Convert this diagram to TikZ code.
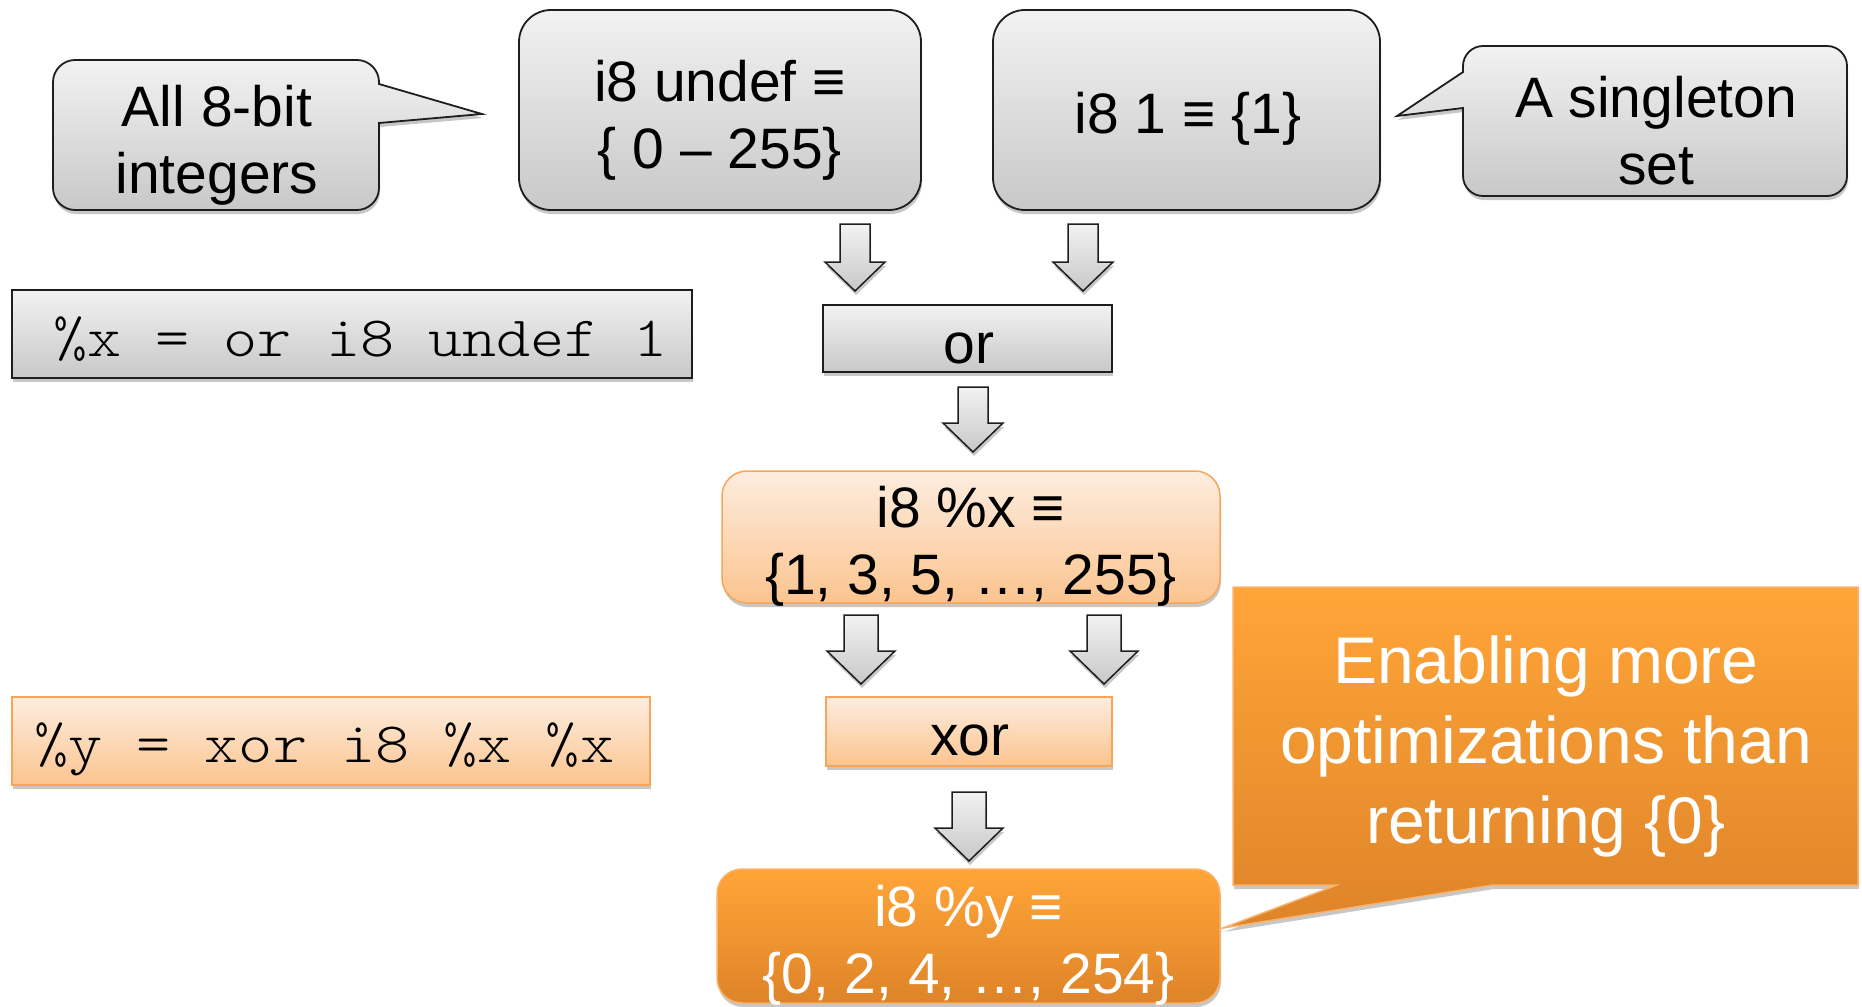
\documentclass[tikz,border=0pt]{standalone}
\usepackage{fontspec}
\setmainfont{Liberation Sans}
\newfontfamily\codefont{lmmonolt10-regular.otf}[FakeStretch=1.14]
\usetikzlibrary{shadows}

\definecolor{grayTop}{HTML}{F2F2F2}
\definecolor{grayBot}{HTML}{C8C8C8}
\definecolor{edgeDark}{HTML}{1E1E1E}
\definecolor{peachTop}{HTML}{FDEDDF}
\definecolor{peachBot}{HTML}{FBC48F}
\definecolor{peachEdge}{HTML}{F8A55A}
\definecolor{amberTop}{HTML}{FFA538}
\definecolor{amberBot}{HTML}{DE8429}
\definecolor{amberEdge}{HTML}{F9B26B}

\tikzset{
  softshadow/.style={drop shadow={shadow xshift=1pt, shadow yshift=-4pt, opacity=0.22, fill=black}},
  graybox/.style={draw=edgeDark, line width=1.8pt, top color=grayTop, bottom color=grayBot, softshadow},
  peachbox/.style={draw=peachEdge, line width=1.5pt, top color=peachTop, bottom color=peachBot, softshadow},
  amberbox/.style={draw=amberEdge, line width=1.5pt, top color=amberTop, bottom color=amberBot, softshadow},
  plate/.style={rectangle, inner sep=0pt},
  label57/.style={font=\fontsize{57}{67}\selectfont, align=center, inner sep=0pt},
  label66/.style={font=\fontsize{66}{80}\selectfont, align=center, inner sep=0pt},
  code57/.style={font=\codefont\fontsize{57}{67}\selectfont, inner sep=0pt},
  blockarrow/.style={draw=edgeDark, line width=1.5pt, line join=miter, top color=grayTop, bottom color=grayBot, softshadow},
}

% hollow block arrow pointing down: x, top, bottom, half head width, half shaft width, head length
\newcommand\downblock[6]{%
  \path[blockarrow] (#1-#5,#2) -- (#1+#5,#2) -- (#1+#5,#3-#6) -- (#1+#4,#3-#6)
    -- (#1,#3) -- (#1-#4,#3-#6) -- (#1-#5,#3-#6) -- cycle;}

\begin{document}
\begin{tikzpicture}[x=1pt,y=-1pt]
\useasboundingbox (0,0) rectangle (1862,1006);

% speech bubble on the left, pointing right
\path[graybox] (75,60) -- (357,60) .. controls (369,60) and (379,70) .. (379,82)
  -- (379,84) -- (482,114) -- (379,123)
  -- (379,188) .. controls (379,200) and (369,210) .. (357,210)
  -- (75,210) .. controls (63,210) and (53,200) .. (53,188)
  -- (53,82) .. controls (53,70) and (63,60) .. (75,60) -- cycle;
\node[label57] (allT) at (217,145) {All 8-bit\\integers};

% speech bubble on the right, pointing left
\path[graybox] (1483,46) -- (1827,46) .. controls (1838,46) and (1847,55) .. (1847,66)
  -- (1847,176) .. controls (1847,187) and (1838,196) .. (1827,196)
  -- (1483,196) .. controls (1472,196) and (1463,187) .. (1463,176)
  -- (1463,108) -- (1397,116) -- (1463,72)
  -- (1463,66) .. controls (1463,55) and (1472,46) .. (1483,46) -- cycle;
\node[label57] (singT) at (1656,131) {A singleton\\set};

% operand boxes
\node[plate, graybox, rounded corners=32pt, minimum width=402pt, minimum height=200pt] (undef) at (720,110) {};
\node[label57] (undefT) at (720,120) {i8 undef ≡\\\{ 0 – 255\}};

\node[plate, graybox, rounded corners=32pt, minimum width=387pt, minimum height=200pt] (one) at (1186.5,110) {};
\node[label57, anchor=base] (oneT) at (1188,134) {i8 1 ≡ \{1\}};

% instruction listings
\node[plate, graybox, minimum width=680pt, minimum height=88pt] (code1) at (352,334) {};
\node[code57, anchor=base west] (code1T) at (53,356) {\%x = or i8 undef 1};

\node[plate, peachbox, minimum width=638pt, minimum height=88pt] (code2) at (331,741) {};
\node[code57, anchor=base west] (code2T) at (34,762) {\%y = xor i8 \%x \%x};

% operation boxes
\node[plate, graybox, minimum width=289pt, minimum height=67pt] (orop) at (967.5,338.5) {};
\node[label57, anchor=base] (orT) at (969,363) {or};

\node[plate, peachbox, minimum width=286pt, minimum height=69pt] (xorop) at (969,731.5) {};
\node[label57, anchor=base] (xorT) at (970,755) {xor};

% value sets
\node[plate, peachbox, rounded corners=25pt, minimum width=498pt, minimum height=132pt] (xset) at (971,537) {};
\node[label57] (xsetT) at (971,546) {i8 \%x ≡\\\{1, 3, 5, …, 255\}};

\node[plate, amberbox, rounded corners=25pt, minimum width=503pt, minimum height=134pt] (yset) at (968.5,936) {};
\node[label57, text=white] (ysetT) at (968.5,945) {i8 \%y ≡\\\{0, 2, 4, …, 254\}};

% big note bubble
\path[amberbox] (1233,587) -- (1858,587) -- (1858,885) -- (1493,885)
  -- (1223,928) -- (1337,885) -- (1233,885) -- cycle;
\node[label66, text=white] (noteT) at (1546,746) {Enabling more\\optimizations than\\returning \{0\}};

% flow arrows
\downblock{855}{224}{291}{30}{15}{29}
\downblock{1083}{224}{291}{30}{15}{29}
\downblock{973}{387}{452}{30}{15}{29}
\downblock{861}{615}{684}{34}{17}{33}
\downblock{1104}{615}{684}{34}{17}{33}
\downblock{969}{792}{861}{34}{17}{33}
\end{tikzpicture}
\end{document}
